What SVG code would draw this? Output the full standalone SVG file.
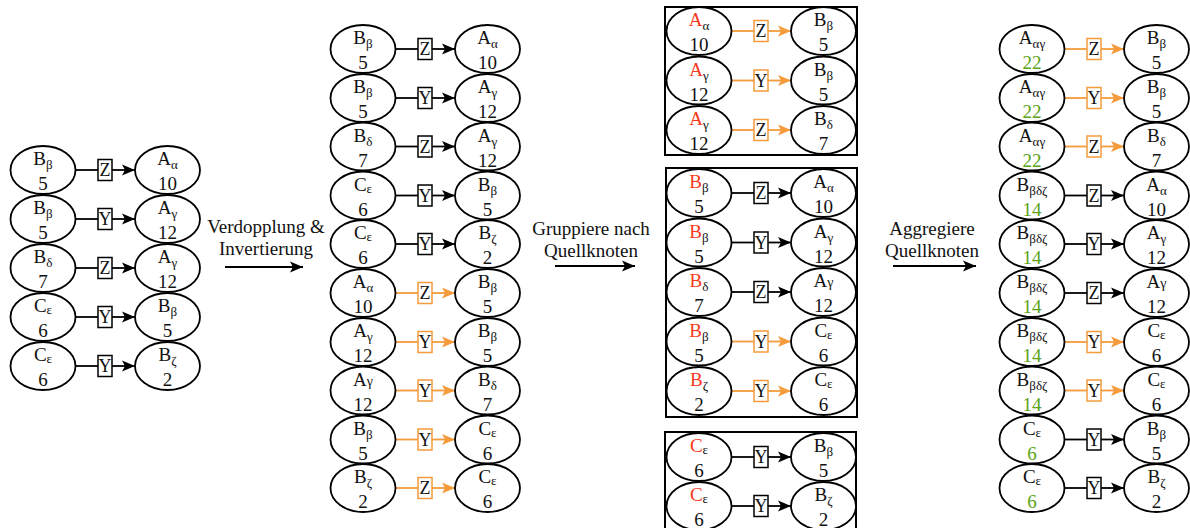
<svg xmlns="http://www.w3.org/2000/svg" width="1190" height="528" viewBox="0 0 1190 528" font-family="'Liberation Serif', 'Times New Roman', serif">
<defs>
<style>
.n ellipse{fill:#fff;stroke:#000;stroke-width:1.8}
text{font-family:'Liberation Serif','Times New Roman',serif;font-size:19px;text-anchor:middle;fill:#111}
.s{font-size:13px}
.sg{font-size:14px}
.r{fill:#F83A1C}
.g{fill:#5BA315}
.e line{stroke:#000;stroke-width:1.8}
.e rect{fill:#fff;stroke:#000;stroke-width:1.5}
.o line{stroke:#F59B3C}
.o rect{stroke:#F59B3C}
.e text{font-size:18px}
.fr{fill:none;stroke:#000;stroke-width:2}
.big line{stroke:#000;stroke-width:1.8}
</style>
<marker id="a" markerWidth="14" markerHeight="12" refX="13" refY="6" orient="auto" markerUnits="userSpaceOnUse"><path d="M0,0.5 L13,6 L0,11.5 L3,6 Z" fill="#000"/></marker>
<marker id="ao" markerWidth="14" markerHeight="12" refX="13" refY="6" orient="auto" markerUnits="userSpaceOnUse"><path d="M0,0.5 L13,6 L0,11.5 L3,6 Z" fill="#F59B3C"/></marker>
</defs>
<rect width="1190" height="528" fill="#fff"/>

<g id="frames">
<rect class="fr" x="665" y="7" width="192" height="148"/>
<rect class="fr" x="666" y="168" width="191" height="249"/>
<rect class="fr" x="665" y="432" width="191" height="100"/>
</g>

<g id="connectors">
<g class="e" transform="translate(43,170)"><line x1="32.5" x2="55"/><line x1="69" x2="92" marker-end="url(#a)"/><rect x="55" y="-10.5" width="14" height="21"/><text x="62" y="6">Z</text></g>
<g class="e" transform="translate(43,219)"><line x1="32.5" x2="55"/><line x1="69" x2="92" marker-end="url(#a)"/><rect x="55" y="-10.5" width="14" height="21"/><text x="62" y="6">Y</text></g>
<g class="e" transform="translate(43,268)"><line x1="32.5" x2="55"/><line x1="69" x2="92" marker-end="url(#a)"/><rect x="55" y="-10.5" width="14" height="21"/><text x="62" y="6">Z</text></g>
<g class="e" transform="translate(43,317)"><line x1="32.5" x2="55"/><line x1="69" x2="92" marker-end="url(#a)"/><rect x="55" y="-10.5" width="14" height="21"/><text x="62" y="6">Y</text></g>
<g class="e" transform="translate(43,366)"><line x1="32.5" x2="55"/><line x1="69" x2="92" marker-end="url(#a)"/><rect x="55" y="-10.5" width="14" height="21"/><text x="62" y="6">Y</text></g>
<g class="e" transform="translate(363,49)"><line x1="32.5" x2="55"/><line x1="69" x2="92" marker-end="url(#a)"/><rect x="55" y="-10.5" width="14" height="21"/><text x="62" y="6">Z</text></g>
<g class="e" transform="translate(363,98)"><line x1="32.5" x2="55"/><line x1="69" x2="92" marker-end="url(#a)"/><rect x="55" y="-10.5" width="14" height="21"/><text x="62" y="6">Y</text></g>
<g class="e" transform="translate(363,146.5)"><line x1="32.5" x2="55"/><line x1="69" x2="92" marker-end="url(#a)"/><rect x="55" y="-10.5" width="14" height="21"/><text x="62" y="6">Z</text></g>
<g class="e" transform="translate(363,195.5)"><line x1="32.5" x2="55"/><line x1="69" x2="92" marker-end="url(#a)"/><rect x="55" y="-10.5" width="14" height="21"/><text x="62" y="6">Y</text></g>
<g class="e" transform="translate(363,244)"><line x1="32.5" x2="55"/><line x1="69" x2="92" marker-end="url(#a)"/><rect x="55" y="-10.5" width="14" height="21"/><text x="62" y="6">Y</text></g>
<g class="e o" transform="translate(363,293)"><line x1="32.5" x2="55"/><line x1="69" x2="92" marker-end="url(#ao)"/><rect x="55" y="-10.5" width="14" height="21"/><text x="62" y="6">Z</text></g>
<g class="e o" transform="translate(363,342)"><line x1="32.5" x2="55"/><line x1="69" x2="92" marker-end="url(#ao)"/><rect x="55" y="-10.5" width="14" height="21"/><text x="62" y="6">Y</text></g>
<g class="e o" transform="translate(363,390.5)"><line x1="32.5" x2="55"/><line x1="69" x2="92" marker-end="url(#ao)"/><rect x="55" y="-10.5" width="14" height="21"/><text x="62" y="6">Y</text></g>
<g class="e o" transform="translate(363,439.5)"><line x1="32.5" x2="55"/><line x1="69" x2="92" marker-end="url(#ao)"/><rect x="55" y="-10.5" width="14" height="21"/><text x="62" y="6">Y</text></g>
<g class="e o" transform="translate(363,488)"><line x1="32.5" x2="55"/><line x1="69" x2="92" marker-end="url(#ao)"/><rect x="55" y="-10.5" width="14" height="21"/><text x="62" y="6">Z</text></g>
<g class="e o" transform="translate(699,31)"><line x1="32.5" x2="55"/><line x1="69" x2="92" marker-end="url(#ao)"/><rect x="55" y="-10.5" width="14" height="21"/><text x="62" y="6">Z</text></g>
<g class="e o" transform="translate(699,80.5)"><line x1="32.5" x2="55"/><line x1="69" x2="92" marker-end="url(#ao)"/><rect x="55" y="-10.5" width="14" height="21"/><text x="62" y="6">Y</text></g>
<g class="e o" transform="translate(699,130)"><line x1="32.5" x2="55"/><line x1="69" x2="92" marker-end="url(#ao)"/><rect x="55" y="-10.5" width="14" height="21"/><text x="62" y="6">Z</text></g>
<g class="e" transform="translate(699,193)"><line x1="32.5" x2="55"/><line x1="69" x2="92" marker-end="url(#a)"/><rect x="55" y="-10.5" width="14" height="21"/><text x="62" y="6">Z</text></g>
<g class="e" transform="translate(699,242.5)"><line x1="32.5" x2="55"/><line x1="69" x2="92" marker-end="url(#a)"/><rect x="55" y="-10.5" width="14" height="21"/><text x="62" y="6">Y</text></g>
<g class="e" transform="translate(699,292)"><line x1="32.5" x2="55"/><line x1="69" x2="92" marker-end="url(#a)"/><rect x="55" y="-10.5" width="14" height="21"/><text x="62" y="6">Z</text></g>
<g class="e o" transform="translate(699,341.5)"><line x1="32.5" x2="55"/><line x1="69" x2="92" marker-end="url(#ao)"/><rect x="55" y="-10.5" width="14" height="21"/><text x="62" y="6">Y</text></g>
<g class="e o" transform="translate(699,391)"><line x1="32.5" x2="55"/><line x1="69" x2="92" marker-end="url(#ao)"/><rect x="55" y="-10.5" width="14" height="21"/><text x="62" y="6">Y</text></g>
<g class="e" transform="translate(699,457)"><line x1="32.5" x2="55"/><line x1="69" x2="92" marker-end="url(#a)"/><rect x="55" y="-10.5" width="14" height="21"/><text x="62" y="6">Y</text></g>
<g class="e" transform="translate(699,506)"><line x1="32.5" x2="55"/><line x1="69" x2="92" marker-end="url(#a)"/><rect x="55" y="-10.5" width="14" height="21"/><text x="62" y="6">Y</text></g>
<g class="e o" transform="translate(1032,49)"><line x1="32.5" x2="55"/><line x1="69" x2="92" marker-end="url(#ao)"/><rect x="55" y="-10.5" width="14" height="21"/><text x="62" y="6">Z</text></g>
<g class="e o" transform="translate(1032,98)"><line x1="32.5" x2="55"/><line x1="69" x2="92" marker-end="url(#ao)"/><rect x="55" y="-10.5" width="14" height="21"/><text x="62" y="6">Y</text></g>
<g class="e o" transform="translate(1032,146.5)"><line x1="32.5" x2="55"/><line x1="69" x2="92" marker-end="url(#ao)"/><rect x="55" y="-10.5" width="14" height="21"/><text x="62" y="6">Z</text></g>
<g class="e" transform="translate(1032,195.5)"><line x1="32.5" x2="55"/><line x1="69" x2="92" marker-end="url(#a)"/><rect x="55" y="-10.5" width="14" height="21"/><text x="62" y="6">Z</text></g>
<g class="e" transform="translate(1032,244)"><line x1="32.5" x2="55"/><line x1="69" x2="92" marker-end="url(#a)"/><rect x="55" y="-10.5" width="14" height="21"/><text x="62" y="6">Y</text></g>
<g class="e" transform="translate(1032,293)"><line x1="32.5" x2="55"/><line x1="69" x2="92" marker-end="url(#a)"/><rect x="55" y="-10.5" width="14" height="21"/><text x="62" y="6">Z</text></g>
<g class="e o" transform="translate(1032,342)"><line x1="32.5" x2="55"/><line x1="69" x2="92" marker-end="url(#ao)"/><rect x="55" y="-10.5" width="14" height="21"/><text x="62" y="6">Y</text></g>
<g class="e o" transform="translate(1032,390.5)"><line x1="32.5" x2="55"/><line x1="69" x2="92" marker-end="url(#ao)"/><rect x="55" y="-10.5" width="14" height="21"/><text x="62" y="6">Y</text></g>
<g class="e" transform="translate(1032,439.5)"><line x1="32.5" x2="55"/><line x1="69" x2="92" marker-end="url(#a)"/><rect x="55" y="-10.5" width="14" height="21"/><text x="62" y="6">Y</text></g>
<g class="e" transform="translate(1032,488)"><line x1="32.5" x2="55"/><line x1="69" x2="92" marker-end="url(#a)"/><rect x="55" y="-10.5" width="14" height="21"/><text x="62" y="6">Y</text></g>
<g class="big">
<line x1="225" y1="267" x2="303" y2="267" marker-end="url(#a)"/>
<line x1="555" y1="266" x2="635" y2="266" marker-end="url(#a)"/>
<line x1="893" y1="266" x2="976" y2="266" marker-end="url(#a)"/>
</g>
</g>

<g id="step-labels">
<text x="266" y="233">Verdopplung &amp;</text><text x="266" y="255">Invertierung</text>
<text x="591" y="235">Gruppiere nach</text><text x="591" y="257">Quellknoten</text>
<text x="932" y="235">Aggregiere</text><text x="932" y="257">Quellknoten</text>
</g>

<g id="c1-1s" class="n" transform="translate(43,170)"><ellipse rx="32.5" ry="24"/><text y="-5">B<tspan class="s" dy="4">β</tspan></text><text y="20">5</text></g>
<g id="c1-1t" class="n" transform="translate(167.5,170)"><ellipse rx="32.5" ry="24"/><text y="-5">A<tspan class="s" dy="4">α</tspan></text><text y="20">10</text></g>
<g id="c1-2s" class="n" transform="translate(43,219)"><ellipse rx="32.5" ry="24"/><text y="-5">B<tspan class="s" dy="4">β</tspan></text><text y="20">5</text></g>
<g id="c1-2t" class="n" transform="translate(167.5,219)"><ellipse rx="32.5" ry="24"/><text y="-5">A<tspan class="s" dy="4">γ</tspan></text><text y="20">12</text></g>
<g id="c1-3s" class="n" transform="translate(43,268)"><ellipse rx="32.5" ry="24"/><text y="-5">B<tspan class="s" dy="4">δ</tspan></text><text y="20">7</text></g>
<g id="c1-3t" class="n" transform="translate(167.5,268)"><ellipse rx="32.5" ry="24"/><text y="-5">A<tspan class="s" dy="4">γ</tspan></text><text y="20">12</text></g>
<g id="c1-4s" class="n" transform="translate(43,317)"><ellipse rx="32.5" ry="24"/><text y="-5">C<tspan class="s" dy="2">ε</tspan></text><text y="20">6</text></g>
<g id="c1-4t" class="n" transform="translate(167.5,317)"><ellipse rx="32.5" ry="24"/><text y="-5">B<tspan class="s" dy="4">β</tspan></text><text y="20">5</text></g>
<g id="c1-5s" class="n" transform="translate(43,366)"><ellipse rx="32.5" ry="24"/><text y="-5">C<tspan class="s" dy="2">ε</tspan></text><text y="20">6</text></g>
<g id="c1-5t" class="n" transform="translate(167.5,366)"><ellipse rx="32.5" ry="24"/><text y="-5">B<tspan class="s" dy="4">ζ</tspan></text><text y="20">2</text></g>

<g id="c2-1s" class="n" transform="translate(363,49)"><ellipse rx="32.5" ry="24"/><text y="-5">B<tspan class="s" dy="4">β</tspan></text><text y="20">5</text></g>
<g id="c2-1t" class="n" transform="translate(487.5,49)"><ellipse rx="32.5" ry="24"/><text y="-5">A<tspan class="s" dy="4">α</tspan></text><text y="20">10</text></g>
<g id="c2-2s" class="n" transform="translate(363,98)"><ellipse rx="32.5" ry="24"/><text y="-5">B<tspan class="s" dy="4">β</tspan></text><text y="20">5</text></g>
<g id="c2-2t" class="n" transform="translate(487.5,98)"><ellipse rx="32.5" ry="24"/><text y="-5">A<tspan class="s" dy="4">γ</tspan></text><text y="20">12</text></g>
<g id="c2-3s" class="n" transform="translate(363,146.5)"><ellipse rx="32.5" ry="24"/><text y="-5">B<tspan class="s" dy="4">δ</tspan></text><text y="20">7</text></g>
<g id="c2-3t" class="n" transform="translate(487.5,146.5)"><ellipse rx="32.5" ry="24"/><text y="-5">A<tspan class="s" dy="4">γ</tspan></text><text y="20">12</text></g>
<g id="c2-4s" class="n" transform="translate(363,195.5)"><ellipse rx="32.5" ry="24"/><text y="-5">C<tspan class="s" dy="2">ε</tspan></text><text y="20">6</text></g>
<g id="c2-4t" class="n" transform="translate(487.5,195.5)"><ellipse rx="32.5" ry="24"/><text y="-5">B<tspan class="s" dy="4">β</tspan></text><text y="20">5</text></g>
<g id="c2-5s" class="n" transform="translate(363,244)"><ellipse rx="32.5" ry="24"/><text y="-5">C<tspan class="s" dy="2">ε</tspan></text><text y="20">6</text></g>
<g id="c2-5t" class="n" transform="translate(487.5,244)"><ellipse rx="32.5" ry="24"/><text y="-5">B<tspan class="s" dy="4">ζ</tspan></text><text y="20">2</text></g>
<g id="c2-6s" class="n" transform="translate(363,293)"><ellipse rx="32.5" ry="24"/><text y="-5">A<tspan class="s" dy="4">α</tspan></text><text y="20">10</text></g>
<g id="c2-6t" class="n" transform="translate(487.5,293)"><ellipse rx="32.5" ry="24"/><text y="-5">B<tspan class="s" dy="4">β</tspan></text><text y="20">5</text></g>
<g id="c2-7s" class="n" transform="translate(363,342)"><ellipse rx="32.5" ry="24"/><text y="-5">A<tspan class="s" dy="4">γ</tspan></text><text y="20">12</text></g>
<g id="c2-7t" class="n" transform="translate(487.5,342)"><ellipse rx="32.5" ry="24"/><text y="-5">B<tspan class="s" dy="4">β</tspan></text><text y="20">5</text></g>
<g id="c2-8s" class="n" transform="translate(363,390.5)"><ellipse rx="32.5" ry="24"/><text y="-5">A<tspan class="sg">γ</tspan></text><text y="20">12</text></g>
<g id="c2-8t" class="n" transform="translate(487.5,390.5)"><ellipse rx="32.5" ry="24"/><text y="-5">B<tspan class="s" dy="4">δ</tspan></text><text y="20">7</text></g>
<g id="c2-9s" class="n" transform="translate(363,439.5)"><ellipse rx="32.5" ry="24"/><text y="-5">B<tspan class="s" dy="4">β</tspan></text><text y="20">5</text></g>
<g id="c2-9t" class="n" transform="translate(487.5,439.5)"><ellipse rx="32.5" ry="24"/><text y="-5">C<tspan class="s" dy="2">ε</tspan></text><text y="20">6</text></g>
<g id="c2-10s" class="n" transform="translate(363,488)"><ellipse rx="32.5" ry="24"/><text y="-5">B<tspan class="s" dy="4">ζ</tspan></text><text y="20">2</text></g>
<g id="c2-10t" class="n" transform="translate(487.5,488)"><ellipse rx="32.5" ry="24"/><text y="-5">C<tspan class="s" dy="2">ε</tspan></text><text y="20">6</text></g>

<g id="c3-1s" class="n" transform="translate(699,31)"><ellipse rx="32.5" ry="24"/><text y="-5"><tspan class="r">A</tspan><tspan class="s" dy="4">α</tspan></text><text y="20">10</text></g>
<g id="c3-1t" class="n" transform="translate(823.5,31)"><ellipse rx="32.5" ry="24"/><text y="-5">B<tspan class="s" dy="4">β</tspan></text><text y="20">5</text></g>
<g id="c3-2s" class="n" transform="translate(699,80.5)"><ellipse rx="32.5" ry="24"/><text y="-5"><tspan class="r">A</tspan><tspan class="s" dy="4">γ</tspan></text><text y="20">12</text></g>
<g id="c3-2t" class="n" transform="translate(823.5,80.5)"><ellipse rx="32.5" ry="24"/><text y="-5">B<tspan class="s" dy="4">β</tspan></text><text y="20">5</text></g>
<g id="c3-3s" class="n" transform="translate(699,130)"><ellipse rx="32.5" ry="24"/><text y="-5"><tspan class="r">A</tspan><tspan class="s" dy="4">γ</tspan></text><text y="20">12</text></g>
<g id="c3-3t" class="n" transform="translate(823.5,130)"><ellipse rx="32.5" ry="24"/><text y="-5">B<tspan class="s" dy="4">δ</tspan></text><text y="20">7</text></g>
<g id="c3-4s" class="n" transform="translate(699,193)"><ellipse rx="32.5" ry="24"/><text y="-5"><tspan class="r">B</tspan><tspan class="s" dy="4">β</tspan></text><text y="20">5</text></g>
<g id="c3-4t" class="n" transform="translate(823.5,193)"><ellipse rx="32.5" ry="24"/><text y="-5">A<tspan class="s" dy="4">α</tspan></text><text y="20">10</text></g>
<g id="c3-5s" class="n" transform="translate(699,242.5)"><ellipse rx="32.5" ry="24"/><text y="-5"><tspan class="r">B</tspan><tspan class="s" dy="4">β</tspan></text><text y="20">5</text></g>
<g id="c3-5t" class="n" transform="translate(823.5,242.5)"><ellipse rx="32.5" ry="24"/><text y="-5">A<tspan class="s" dy="4">γ</tspan></text><text y="20">12</text></g>
<g id="c3-6s" class="n" transform="translate(699,292)"><ellipse rx="32.5" ry="24"/><text y="-5"><tspan class="r">B</tspan><tspan class="s" dy="4">δ</tspan></text><text y="20">7</text></g>
<g id="c3-6t" class="n" transform="translate(823.5,292)"><ellipse rx="32.5" ry="24"/><text y="-5">A<tspan class="sg">γ</tspan></text><text y="20">12</text></g>
<g id="c3-7s" class="n" transform="translate(699,341.5)"><ellipse rx="32.5" ry="24"/><text y="-5"><tspan class="r">B</tspan><tspan class="s" dy="4">β</tspan></text><text y="20">5</text></g>
<g id="c3-7t" class="n" transform="translate(823.5,341.5)"><ellipse rx="32.5" ry="24"/><text y="-5">C<tspan class="s" dy="2">ε</tspan></text><text y="20">6</text></g>
<g id="c3-8s" class="n" transform="translate(699,391)"><ellipse rx="32.5" ry="24"/><text y="-5"><tspan class="r">B</tspan><tspan class="s" dy="4">ζ</tspan></text><text y="20">2</text></g>
<g id="c3-8t" class="n" transform="translate(823.5,391)"><ellipse rx="32.5" ry="24"/><text y="-5">C<tspan class="s" dy="2">ε</tspan></text><text y="20">6</text></g>
<g id="c3-9s" class="n" transform="translate(699,457)"><ellipse rx="32.5" ry="24"/><text y="-5"><tspan class="r">C</tspan><tspan class="s" dy="2">ε</tspan></text><text y="20">6</text></g>
<g id="c3-9t" class="n" transform="translate(823.5,457)"><ellipse rx="32.5" ry="24"/><text y="-5">B<tspan class="s" dy="4">β</tspan></text><text y="20">5</text></g>
<g id="c3-10s" class="n" transform="translate(699,506)"><ellipse rx="32.5" ry="24"/><text y="-5"><tspan class="r">C</tspan><tspan class="s" dy="2">ε</tspan></text><text y="20">6</text></g>
<g id="c3-10t" class="n" transform="translate(823.5,506)"><ellipse rx="32.5" ry="24"/><text y="-5">B<tspan class="s" dy="4">ζ</tspan></text><text y="20">2</text></g>

<g id="c4-1s" class="n" transform="translate(1032,49)"><ellipse rx="32.5" ry="24"/><text y="-5">A<tspan class="s" dy="4">αγ</tspan></text><text y="20" class="g">22</text></g>
<g id="c4-1t" class="n" transform="translate(1156.5,49)"><ellipse rx="32.5" ry="24"/><text y="-5">B<tspan class="s" dy="4">β</tspan></text><text y="20">5</text></g>
<g id="c4-2s" class="n" transform="translate(1032,98)"><ellipse rx="32.5" ry="24"/><text y="-5">A<tspan class="s" dy="4">αγ</tspan></text><text y="20" class="g">22</text></g>
<g id="c4-2t" class="n" transform="translate(1156.5,98)"><ellipse rx="32.5" ry="24"/><text y="-5">B<tspan class="s" dy="4">β</tspan></text><text y="20">5</text></g>
<g id="c4-3s" class="n" transform="translate(1032,146.5)"><ellipse rx="32.5" ry="24"/><text y="-5">A<tspan class="s" dy="4">αγ</tspan></text><text y="20" class="g">22</text></g>
<g id="c4-3t" class="n" transform="translate(1156.5,146.5)"><ellipse rx="32.5" ry="24"/><text y="-5">B<tspan class="s" dy="4">δ</tspan></text><text y="20">7</text></g>
<g id="c4-4s" class="n" transform="translate(1032,195.5)"><ellipse rx="32.5" ry="24"/><text y="-5">B<tspan class="s" dy="4">βδζ</tspan></text><text y="20" class="g">14</text></g>
<g id="c4-4t" class="n" transform="translate(1156.5,195.5)"><ellipse rx="32.5" ry="24"/><text y="-5">A<tspan class="s" dy="4">α</tspan></text><text y="20">10</text></g>
<g id="c4-5s" class="n" transform="translate(1032,244)"><ellipse rx="32.5" ry="24"/><text y="-5">B<tspan class="s" dy="4">βδζ</tspan></text><text y="20" class="g">14</text></g>
<g id="c4-5t" class="n" transform="translate(1156.5,244)"><ellipse rx="32.5" ry="24"/><text y="-5">A<tspan class="s" dy="4">γ</tspan></text><text y="20">12</text></g>
<g id="c4-6s" class="n" transform="translate(1032,293)"><ellipse rx="32.5" ry="24"/><text y="-5">B<tspan class="s" dy="4">βδζ</tspan></text><text y="20" class="g">14</text></g>
<g id="c4-6t" class="n" transform="translate(1156.5,293)"><ellipse rx="32.5" ry="24"/><text y="-5">A<tspan class="sg">γ</tspan></text><text y="20">12</text></g>
<g id="c4-7s" class="n" transform="translate(1032,342)"><ellipse rx="32.5" ry="24"/><text y="-5">B<tspan class="s" dy="4">βδζ</tspan></text><text y="20" class="g">14</text></g>
<g id="c4-7t" class="n" transform="translate(1156.5,342)"><ellipse rx="32.5" ry="24"/><text y="-5">C<tspan class="s" dy="2">ε</tspan></text><text y="20">6</text></g>
<g id="c4-8s" class="n" transform="translate(1032,390.5)"><ellipse rx="32.5" ry="24"/><text y="-5">B<tspan class="s" dy="4">βδζ</tspan></text><text y="20" class="g">14</text></g>
<g id="c4-8t" class="n" transform="translate(1156.5,390.5)"><ellipse rx="32.5" ry="24"/><text y="-5">C<tspan class="s" dy="2">ε</tspan></text><text y="20">6</text></g>
<g id="c4-9s" class="n" transform="translate(1032,439.5)"><ellipse rx="32.5" ry="24"/><text y="-5">C<tspan class="s" dy="2">ε</tspan></text><text y="20" class="g">6</text></g>
<g id="c4-9t" class="n" transform="translate(1156.5,439.5)"><ellipse rx="32.5" ry="24"/><text y="-5">B<tspan class="s" dy="4">β</tspan></text><text y="20">5</text></g>
<g id="c4-10s" class="n" transform="translate(1032,488)"><ellipse rx="32.5" ry="24"/><text y="-5">C<tspan class="s" dy="2">ε</tspan></text><text y="20" class="g">6</text></g>
<g id="c4-10t" class="n" transform="translate(1156.5,488)"><ellipse rx="32.5" ry="24"/><text y="-5">B<tspan class="s" dy="4">ζ</tspan></text><text y="20">2</text></g>
</svg>
